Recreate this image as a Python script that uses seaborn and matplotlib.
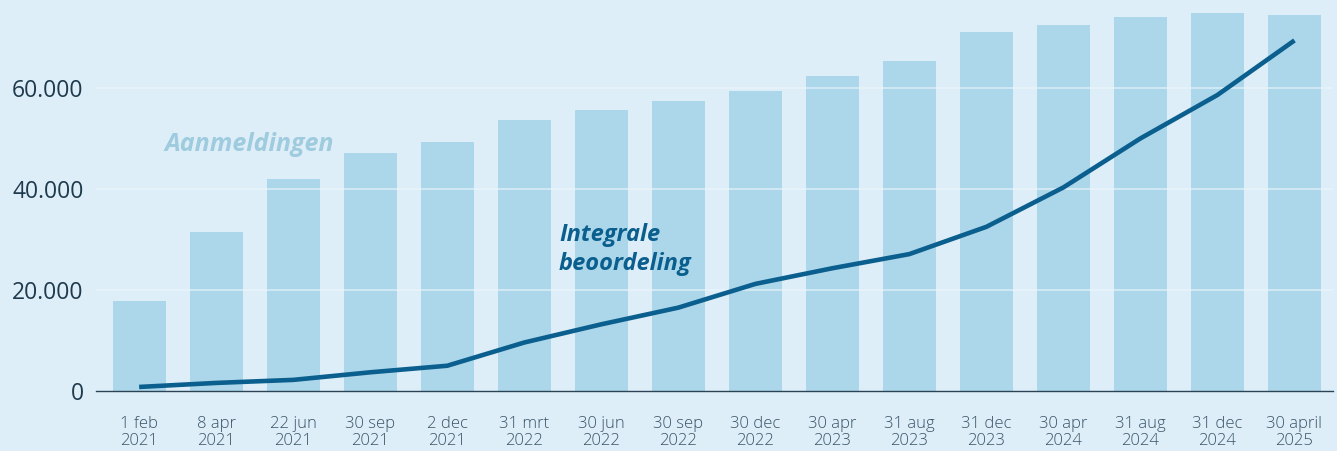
import numpy as np
import pandas as pd
import matplotlib
matplotlib.use("Agg")
import matplotlib.pyplot as plt
import seaborn as sns

# Data
dates = ["1 feb\n2021", "8 apr\n2021", "22 jun\n2021", "30 sep\n2021", "2 dec\n2021",
         "31 mrt\n2022", "30 jun\n2022", "30 sep\n2022", "30 dec\n2022", "30 apr\n2023",
         "31 aug\n2023", "31 dec\n2023", "30 apr\n2024", "31 aug\n2024", "31 dec\n2024",
         "30 april\n2025"]
aanmeldingen = [17800, 31500, 42000, 47100, 49300, 53700, 55600, 57400, 59400, 62400,
                65300, 71000, 72500, 74000, 74900, 74500]
integrale = [800, 1600, 2200, 3700, 5000, 9600, 13200, 16500, 21200, 24300,
             27100, 32500, 40300, 50000, 58600, 69400]
yticks = [0, 20000, 40000, 60000]

bg = "#ddeef8"
bar_col = "#acd7ea"
line_col = "#0b5f8e"

df = pd.DataFrame({"datum": dates, "aanmeldingen": aanmeldingen, "integrale": integrale})
df["pos"] = np.arange(len(df))

sns.set_style("white")
plt.rcParams["font.family"] = ["Open Sans", "DejaVu Sans"]

fig = plt.figure(figsize=(13.37, 4.51), dpi=100, facecolor=bg)
ax = fig.add_axes([96 / 1337, 60 / 451, (1333 - 96) / 1337, 391 / 451])
ax.set_facecolor(bg)

sns.barplot(data=df, x="datum", y="aanmeldingen", color=bar_col, width=0.69,
            saturation=1, ax=ax, zorder=1, edgecolor="none", linewidth=0)
for y in yticks[1:]:
    ax.axhline(y, color="#eef7fc", lw=1.1, alpha=0.7, zorder=2)
sns.lineplot(data=df, x="pos", y="integrale", color=line_col, lw=3.3, ax=ax,
             zorder=3, solid_capstyle="butt")

ax.set_xlim(-0.56, len(dates) - 0.5)
ax.set_ylim(0, 77400)
ax.set_xlabel("")
ax.set_ylabel("")
ax.set_yticks(yticks)
ax.set_yticklabels([f"{v:,}".replace(",", ".") for v in yticks], fontsize=16.5,
                   color="#1e3a4c")
ax.set_xticks(df["pos"])
ax.set_xticklabels(dates, fontsize=12, color="#3a5466", fontweight="light",
                   linespacing=1.1)
ax.tick_params(axis="both", length=0)
ax.tick_params(axis="y", pad=9)
ax.tick_params(axis="x", pad=18)

for s in ["top", "right", "left"]:
    ax.spines[s].set_visible(False)
ax.spines["bottom"].set_color("#2a4455")
ax.spines["bottom"].set_linewidth(1.0)
ax.spines["bottom"].set_zorder(4)

ax.text(1.43, 48700, "Aanmeldingen", fontsize=18, fontstyle="italic", fontweight="bold",
        color="#9ecbde", ha="center", va="center")
ax.text(5.45, 28000, "Integrale\nbeoordeling", fontsize=17, fontstyle="italic",
        fontweight="bold", color=line_col, ha="left", va="center", linespacing=1.25)

fig.savefig("out.png", dpi=100, facecolor=bg)
